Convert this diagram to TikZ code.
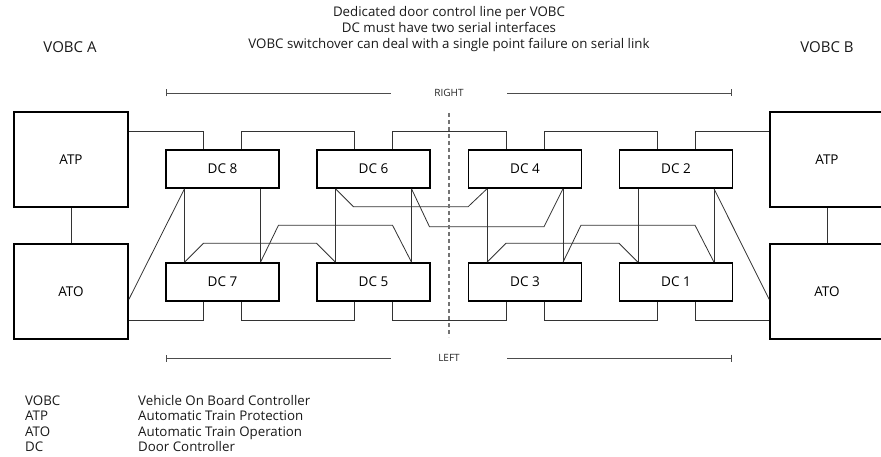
\documentclass[tikz,border=0pt]{standalone}
\usepackage{fontspec}
\setmainfont{Open Sans}
\usetikzlibrary{arrows.meta, positioning, calc}
\tikzset{
  unit/.style={draw, line width=1.6pt, minimum width=114pt, minimum height=95pt, font=\fontsize{13.5}{15}\selectfont},
  dc/.style={draw, line width=1.6pt, minimum width=113pt, minimum height=38pt, font=\fontsize{13.5}{15}\selectfont},
  link/.style={line width=0.8pt, draw=black!80},
  dim/.style={line width=0.9pt, draw=black!70},
  lbl/.style={font=\fontsize{13.3}{16}\selectfont, text=black!90},
  lgd/.style={lbl, anchor=base west, inner sep=0pt},
  side/.style={font=\fontsize{10}{11}\selectfont, text=black!85},
}

\begin{document}
\begin{tikzpicture}[x=1pt, y=-1pt]
    \useasboundingbox (0,0) rectangle (881,457);
    % headings
    \node[lbl, align=center] (title) at (449,29) {Dedicated door control line per VOBC\\DC must have two serial interfaces\\VOBC switchover can deal with a single point failure on serial link};
    \node[font=\fontsize{15}{17}\selectfont, text=black!90] (vobcA) at (70,47) {VOBC A};
    \node[font=\fontsize{15}{17}\selectfont, text=black!90] (vobcB) at (827,47) {VOBC B};
    % VOBC units
    \node[unit] (atpA) at (71,159.5) {ATP};
    \node[unit] (atoA) at (71,291.5) {ATO};
    \node[unit] (atpB) at (827,159.5) {ATP};
    \node[unit] (atoB) at (827,291.5) {ATO};
    % door controllers
    \node[dc] (dc8) at (222.5,169) {DC 8};
    \node[dc] (dc7) at (222.5,282) {DC 7};
    \node[dc] (dc6) at (373.5,169) {DC 6};
    \node[dc] (dc5) at (373.5,282) {DC 5};
    \node[dc] (dc4) at (525,169) {DC 4};
    \node[dc] (dc3) at (525,282) {DC 3};
    \node[dc] (dc2) at (676,169) {DC 2};
    \node[dc] (dc1) at (676,282) {DC 1};
    % ATP - ATO
    \draw[link] (atpA) -- (atoA);
    \draw[link] (atpB) -- (atoB);
    % serial line, top and bottom
    \draw[link] ($(atpA.north east)+(0,20)$) -| ($(dc8.north)+(-19,0)$);
    \foreach \a/\b in {dc8/dc6, dc6/dc4, dc4/dc2}
      \draw[link] ($(\a.north)+(19,0)$) |- ($(\b.north)+(-19,-18)$) -- ($(\b.north)+(-19,0)$);
    \draw[link] ($(dc2.north)+(19,0)$) |- ($(atpB.north west)+(0,20)$);
    \draw[link] ($(atoA.south east)+(0,-19)$) -| ($(dc7.south)+(-19,0)$);
    \foreach \a/\b in {dc7/dc5, dc5/dc3, dc3/dc1}
      \draw[link] ($(\a.south)+(19,0)$) |- ($(\b.south)+(-19,19)$) -- ($(\b.south)+(-19,0)$);
    \draw[link] ($(dc1.south)+(19,0)$) |- ($(atoB.south west)+(0,-19)$);
    % door control lines
    \foreach \a/\b in {dc8/dc7, dc6/dc5, dc4/dc3, dc2/dc1} {
      \draw[link] ($(\a.south)+(-38,0)$) -- ($(\b.north)+(-38,0)$);
      \draw[link] ($(\a.south)+(38,0)$) -- ($(\b.north)+(38,0)$);
    }
    \draw[link] ($(dc8.south)+(-38,0)$) -- ($(atoA.east)+(0,8)$);
    \draw[link] ($(dc2.south)+(38,0)$) -- ($(atoB.west)+(0,8)$);
    \foreach \a/\b in {dc7/dc5, dc3/dc1} {
      \draw[link] ($(\a.north)+(-38,0)$) -- ++(19,-19) -- ($(\b.north)+(-57,-19)$) -- ($(\b.north)+(-38,0)$);
      \draw[link] ($(\a.north)+(38,0)$) -- ++(18,-37) -- ($(\b.north)+(19,-37)$) -- ($(\b.north)+(38,0)$);
    }
    \draw[link] ($(dc6.south)+(-38,0)$) -- ++(18,18) -- ($(dc4.south)+(-57,18)$) -- ($(dc4.south)+(-38,0)$);
    \draw[link] ($(dc6.south)+(38,0)$) -- ++(18,38) -- ($(dc4.south)+(19,38)$) -- ($(dc4.south)+(38,0)$);
    % middle of train
    \coordinate (midT) at (449,113);
    \coordinate (midB) at (449,337);
    \draw[black!55, line width=1.3pt, dash pattern=on 4pt off 3pt] (midT) -- (midB);
    % sides
    \node[side] (right) at (449,93) {RIGHT};
    \coordinate (rL) at (166,93); \coordinate (rL2) at (391,93);
    \coordinate (rR) at (732,93); \coordinate (rR2) at (507,93);
    \draw[dim, {Bar[width=7pt]}-] (rL) -- (rL2);
    \draw[dim, -{Bar[width=7pt]}] (rR2) -- (rR);
    \node[side] (left) at (449,358) {LEFT};
    \coordinate (lL) at (166,358); \coordinate (lL2) at (391,358);
    \coordinate (lR) at (732,358); \coordinate (lR2) at (507,358);
    \draw[dim, {Bar[width=7pt]}-] (lL) -- (lL2);
    \draw[dim, -{Bar[width=7pt]}] (lR2) -- (lR);
    % legend
    \node[lgd] (kVOBC) at (25,405) {VOBC};
    \node[lgd] (kATP) at (25,420.5) {ATP};
    \node[lgd] (kATO) at (25,436) {ATO};
    \node[lgd] (kDC) at (25,451.5) {DC};
    \node[lgd] (tVOBC) at (138,405) {Vehicle On Board Controller};
    \node[lgd] (tATP) at (138,420.5) {Automatic Train Protection};
    \node[lgd] (tATO) at (138,436) {Automatic Train Operation};
    \node[lgd] (tDC) at (138,451.5) {Door Controller};
  \end{tikzpicture}
\end{document}
